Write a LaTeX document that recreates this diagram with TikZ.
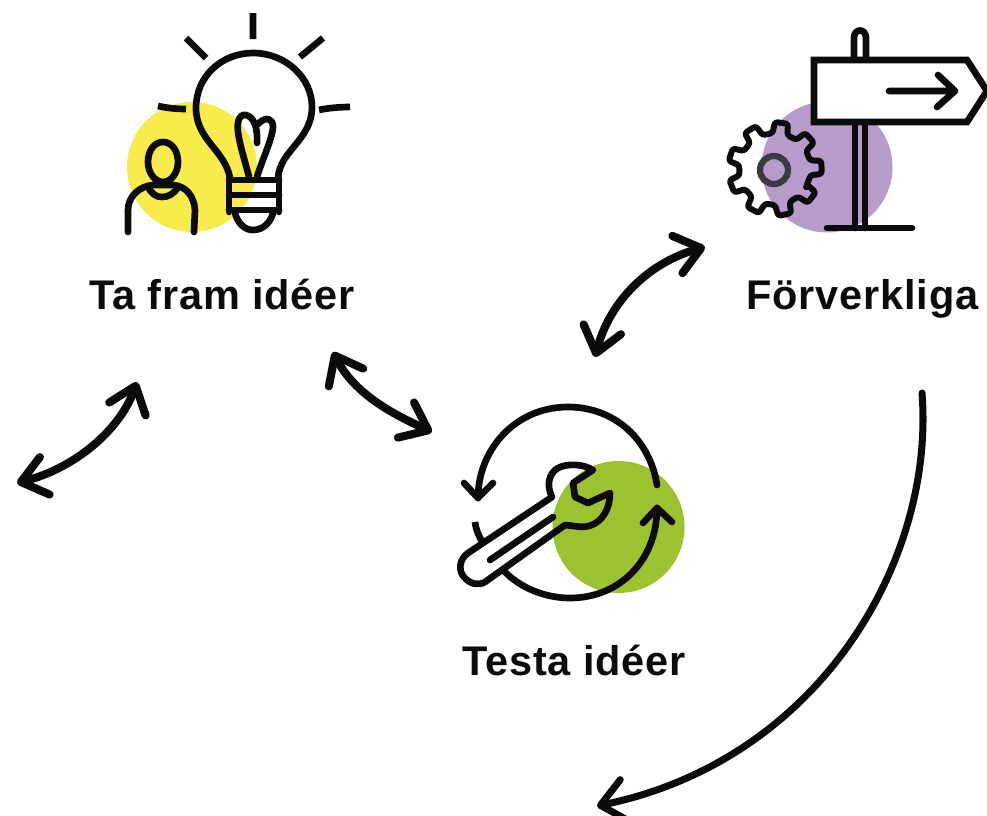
\documentclass[tikz,border=0pt]{standalone}
\usepackage{fontspec}
\setmainfont{Liberation Sans}[LetterSpace=2]
\usetikzlibrary{arrows.meta}
\definecolor{ink}{HTML}{0B0B0D}
\definecolor{yel}{HTML}{F8EC4C}
\definecolor{pur}{HTML}{B79CCB}
\definecolor{grn}{HTML}{9CC32F}
\definecolor{hole}{HTML}{3A3A42}
\tikzset{
  icon/.style={draw=ink,line width=3.8pt,line cap=round,line join=round},
  conn/.style={draw=ink,line width=4.6pt,line cap=round,
    {Straight Barb[round,length=14pt,width=22pt]}-{Straight Barb[round,length=14pt,width=22pt]}},
  oneway/.style={draw=ink,line width=4pt,line cap=round,
    -{Straight Barb[round,length=14pt,width=24pt]}},
  lbl/.style={anchor=base,inner sep=0pt,text=ink,font=\fontsize{23.6}{26}\selectfont\bfseries},
}
\begin{document}
\begin{tikzpicture}[x=0.02cm,y=-0.02cm]
\useasboundingbox (0,0) rectangle (987,815);
\fill[white] (0,0) rectangle (987,815);
% colour discs
\fill[yel] (192,167) circle[radius=65];
\fill[pur] (827,167) circle[radius=65.5];
\fill[grn] (618.5,527) circle[radius=66];
% bulb
\draw[icon] (230,178) .. controls (225,150) and (196,140) .. (196,108)
  .. controls (196,76) and (222,53) .. (253,53)
  .. controls (286,53) and (312,78) .. (312,107)
  .. controls (312,140) and (280,150) .. (278,178);
\draw[icon] (229,180) -- (279,180) (229,195) -- (279,195) (229,210) -- (279,210)
  (229,178) -- (229,212) (279,178) -- (279,212);
\draw[icon] (235,213) .. controls (238,224) and (245,230) .. (253,230) .. controls (262,230) and (270,224) .. (273,213);
\draw[icon] (249,177) .. controls (245,160) and (236,135) .. (238,123)
  .. controls (239,116) and (243,114) .. (246,115)
  .. controls (254,117) and (258,128) .. (257,143);
\draw[icon] (257,177) .. controls (262,160) and (272,140) .. (273,127)
  .. controls (273,118) and (266,116) .. (258,124);
\draw[icon,line cap=butt] (253,13) -- (253,39) (186,38) -- (206,58) (323,38) -- (300,57)
  (319,110) .. controls (328,108) and (340,107) .. (350,107)
  (158,106) .. controls (167,108) and (176,109) .. (186,109);
% person
\draw[icon] (163,142) .. controls (172,142) and (178,151) .. (178,162)
  .. controls (178,173) and (171,182) .. (163,182)
  .. controls (155,182) and (148,173) .. (148,162)
  .. controls (148,151) and (154,142) .. (163,142) -- cycle;
\draw[icon] (128,232) -- (128,210) .. controls (128,196) and (140,186) .. (153,185)
  -- (173,185) .. controls (186,186) and (194,196) .. (195,210) -- (194,232);
\draw[icon] (148,187) .. controls (152,194) and (156,197) .. (162,197) .. controls (168,197) and (174,194) .. (178,187);
% signpost
\draw[icon] (854,58) -- (854,38) .. controls (854,28) and (866,28) .. (866,38) -- (866,58);
\draw[icon] (855,122) -- (855,228) (865,122) -- (865,228) (827,228) -- (912,228);
\draw[icon,fill=white,line cap=butt,line join=miter] (814,60) -- (967,60) -- (987,91) -- (967,122) -- (814,122) -- cycle;
\draw[icon] (889,91) -- (955,91) (938,75) -- (955,91) -- (937,107);
% gear
\draw[icon,line width=3.4pt,rounded corners=1.5pt] ({775+36*cos(-30)},{169-36*sin(-30)})
  \foreach \a in {2,42,...,322} {
    -- ({775+36*cos(\a-12)},{169-36*sin(\a-12)})
    -- ({775+47*cos(\a-8)},{169-47*sin(\a-8)})
    -- ({775+47*cos(\a+8)},{169-47*sin(\a+8)})
    -- ({775+36*cos(\a+12)},{169-36*sin(\a+12)})
  } -- cycle;
\draw[draw=hole,line width=3.6pt] (774,170) circle[radius=14];
% repeat arcs and wrench
\draw[icon] (657,485) .. controls (650,440) and (615,407) .. (568,407)
  .. controls (515,407) and (478,450) .. (478,498);
\draw[icon] (464,483) -- (478,498) -- (493,483);
\draw[icon,line cap=butt] (475,522) .. controls (476,530) and (479,537) .. (483,543);
\draw[icon] (503,570) .. controls (520,588) and (545,598) .. (570,598)
  .. controls (620,598) and (657,560) .. (657,508);
\draw[icon] (643,523) -- (657,508) -- (672,522);
\draw[icon] (552,497) -- (468,553) .. controls (458,560) and (459,572) .. (464,577)
  .. controls (470,584) and (478,586) .. (485,582) -- (565,525)
  .. controls (575,526) and (583,528) .. (589,526)
  .. controls (603,522) and (610,508) .. (610,493)
  -- (588,503) -- (575,497) -- (573,483) -- (593,470)
  .. controls (583,464) and (568,463) .. (558,468)
  .. controls (549,473) and (546,485) .. (552,497) -- cycle;
\draw[icon] (490,560) -- (553,517);
% labels
\node[lbl] (idea) at (222,309) {Ta fram idéer};
\node[lbl] (real) at (862.5,309) {Förverkliga};
\node[lbl] (test) at (574,675) {Testa idéer};
% connector ends
\coordinate (ideaOut) at (137,382);
\coordinate (farLeft) at (17,483);
\coordinate (ideaSE) at (333,352);
\coordinate (testNW) at (432,432);
\coordinate (testN) at (595,357);
\coordinate (realW) at (705,247);
\coordinate (realS) at (922,393);
\coordinate (exit) at (597,806);
\draw[conn] (ideaOut) .. controls (120,430) and (75,468) .. (farLeft);
\draw[conn] (ideaSE) .. controls (355,395) and (395,415) .. (testNW);
\draw[conn] (testN) .. controls (610,300) and (650,262) .. (realW);
\draw[oneway] (realS) .. controls (935,560) and (820,760) .. (exit);
\end{tikzpicture}
\end{document}
